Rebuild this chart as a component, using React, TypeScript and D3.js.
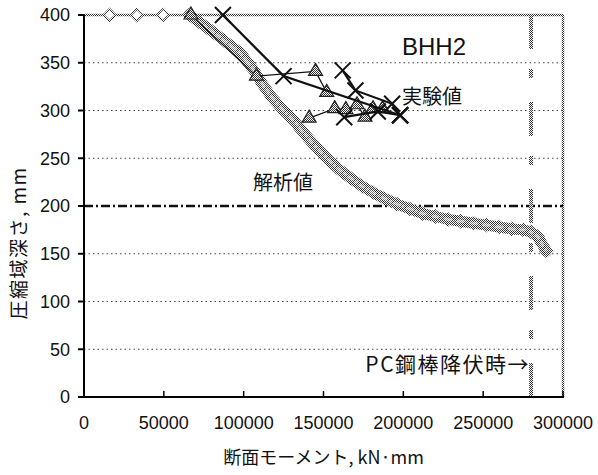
import * as d3 from 'd3';

// 解析値 (analysis) – moment kN·mm / depth mm
const analysisMoment = [16000, 33000, 49500, 66000, 72000, 80000, 88000, 98000, 106000, 112000, 118000, 124000, 130000, 136000, 142000, 148000, 154000, 160000, 167000, 174000, 181000, 188000, 196000, 204000, 212000, 220000, 228000, 236000, 244000, 252000, 260000, 268000, 275000, 280000, 284000, 287000, 289500];
const analysisDepth = [400, 400, 400, 400, 393, 383, 373, 360, 343, 327, 313, 302, 292, 280, 268, 257, 247, 238, 229, 221, 214, 208, 202, 197, 192, 189, 186, 184, 182, 180, 178, 176, 175, 173, 168, 160, 153];

// 実験値 – triangle series (two runs)
const triMoment1 = [67000, 108000, 145000, 152000];
const triDepth1 = [400, 336, 341, 319];
const triMoment2 = [141000, 157000, 164000, 171000, 176000, 181000, 187000];
const triDepth2 = [292, 302, 301, 306, 293, 302, 302];

// 実験値 – cross series (three runs)
const crossMoment1 = [87000, 125000, 198000];
const crossDepth1 = [400, 336, 295];
const crossMoment2 = [162000, 170000, 193000, 198000];
const crossDepth2 = [342, 321, 307, 295];
const crossMoment3 = [163000, 184000, 198000];
const crossDepth3 = [293, 299, 295];

const xTicks = [0, 50000, 100000, 150000, 200000, 250000, 300000];
const yTicks = [0, 50, 100, 150, 200, 250, 300, 350, 400];
const gridDepths = [50, 100, 150, 250, 300, 350];
const refDepth = 200;
const yieldMoment = 280000;

const W = 598;
const H = 475;
const m = { left: 84, right: 35, top: 15, bottom: 78 };
const latin = "'Liberation Sans', Arial, 'Noto Sans CJK JP', sans-serif";
const jp = "'Noto Sans CJK JP', 'Liberation Sans', sans-serif";

const zip = (xs: number[], ys: number[]) => xs.map((v, i) => [v, ys[i]] as [number, number]);

export default function App() {
  const x = d3.scaleLinear().domain([0, 300000]).range([m.left, W - m.right]);
  const y = d3.scaleLinear().domain([0, 400]).range([H - m.bottom, m.top]);
  const line = d3.line<[number, number]>().x((d) => x(d[0])).y((d) => y(d[1]));

  const analysis = zip(analysisMoment, analysisDepth);
  const tri = [zip(triMoment1, triDepth1), zip(triMoment2, triDepth2)];
  const cross = [zip(crossMoment1, crossDepth1), zip(crossMoment2, crossDepth2), zip(crossMoment3, crossDepth3)];

  const x0 = x(0);
  const x1 = x(300000);
  const y0 = y(0);
  const y1 = y(400);

  return (
    <svg width={W} height={H} style={{ position: 'absolute', left: 0, top: 0, background: '#fff' }}>
      <defs>
        <pattern id="chk" width="2" height="2" patternUnits="userSpaceOnUse">
          <rect width="2" height="2" fill="#fff" />
          <rect width="1" height="1" fill="#333" />
          <rect x="1" y="1" width="1" height="1" fill="#333" />
        </pattern>
      </defs>

      {/* grid */}
      {gridDepths.map((d) => (
        <line key={d} x1={x0} x2={x1} y1={y(d)} y2={y(d)} stroke="#444" strokeWidth={1} strokeDasharray="1.5 3" />
      ))}

      {/* plot-area border (top / right) */}
      <line x1={x0} x2={x1} y1={y1} y2={y1} stroke="url(#chk)" strokeWidth={2.5} />
      <line x1={x1} x2={x1} y1={y1} y2={y0} stroke="url(#chk)" strokeWidth={2.5} />

      {/* 200 mm reference line */}
      <line x1={x0} x2={x1} y1={y(refDepth)} y2={y(refDepth)} stroke="#111" strokeWidth={2.5} strokeDasharray="9 3 2 3" />

      {/* PC bar yield */}
      <line x1={x(yieldMoment)} x2={x(yieldMoment)} y1={y1} y2={y0} stroke="url(#chk)" strokeWidth={4} strokeDasharray="34 20 9 24" />

      {/* analysis band */}
      <path d={line(analysis.slice(3))!} fill="none" stroke="url(#chk)" strokeWidth={11} strokeLinejoin="round" strokeLinecap="round" />
      <path d={line(analysis.slice(3))!} fill="none" stroke="#fff" strokeOpacity={0.45} strokeWidth={3} strokeLinejoin="round" />
      {analysis.map((d, i) => (
        <path
          key={i}
          d={`M${x(d[0])},${y(d[1]) - 6}l6,6l-6,6l-6,-6z`}
          fill={i < 4 ? '#fff' : 'none'}
          stroke="url(#chk)"
          strokeWidth={2}
        />
      ))}

      {/* triangles */}
      {tri.map((s, k) => (
        <path key={k} d={line(s)!} fill="none" stroke="#111" strokeWidth={1.2} />
      ))}
      {tri.flat().map((d, i) => (
        <path
          key={i}
          d={`M${x(d[0])},${y(d[1]) - 8}l7,12h-14z`}
          fill="url(#chk)"
          stroke="#222"
          strokeWidth={1.2}
        />
      ))}

      {/* crosses */}
      {cross.map((s, k) => (
        <path key={k} d={line(s)!} fill="none" stroke="#111" strokeWidth={2.2} />
      ))}
      {cross.flat().map((d, i) => (
        <path
          key={i}
          d={`M${x(d[0]) - 8},${y(d[1]) - 8}l16,16M${x(d[0]) + 8},${y(d[1]) - 8}l-16,16`}
          stroke="#111"
          strokeWidth={2}
        />
      ))}

      {/* axes */}
      <line x1={x0} x2={x0} y1={y1} y2={y0} stroke="#000" strokeWidth={2} />
      <line x1={x0} x2={x1 + 1} y1={y0} y2={y0} stroke="#000" strokeWidth={2} />
      {yTicks.map((t) => (
        <g key={t}>
          <line x1={x0 - 6} x2={x0} y1={y(t)} y2={y(t)} stroke="#000" strokeWidth={2} />
          <text x={x0 - 14} y={y(t)} dy="0.36em" textAnchor="end" fontFamily={latin} fontSize={18} fill="#111">
            {t}
          </text>
        </g>
      ))}
      {xTicks.map((t) => (
        <g key={t}>
          {t > 0 && <line x1={x(t)} x2={x(t)} y1={y0} y2={y0 - 6} stroke="#000" strokeWidth={1.5} />}
          <text x={x(t)} y={y0 + 26} dy="0.36em" textAnchor="middle" fontFamily={latin} fontSize={18} fill="#111">
            {t}
          </text>
        </g>
      ))}

      {/* axis titles */}
      <text x={(x0 + x1) / 2} y={H - 17} dy="0.36em" textAnchor="middle" fontFamily={jp} fontSize={18} fill="#111">
        断面モーメント, kN·mm
      </text>
      <text
        transform={`translate(19,${(y0 + y1) / 2 + 37}) rotate(-90)`}
        dy="0.36em"
        textAnchor="middle"
        fontFamily={jp}
        fontSize={19}
        letterSpacing={1.5}
        fill="#111"
      >
        圧縮域深さ, mm
      </text>

      {/* annotations */}
      <text x={402} y={55} fontFamily={latin} fontSize={24} fill="#111">BHH2</text>
      <text x={402} y={104} fontFamily={jp} fontSize={20} fill="#111">実験値</text>
      <text x={253} y={190} fontFamily={jp} fontSize={20} fill="#111">解析値</text>
      <text x={x(yieldMoment) - 1} y={372} textAnchor="end" fontFamily={jp} fontSize={21} letterSpacing={1.5} fill="#111">
        PC鋼棒降伏時→
      </text>
    </svg>
  );
}
